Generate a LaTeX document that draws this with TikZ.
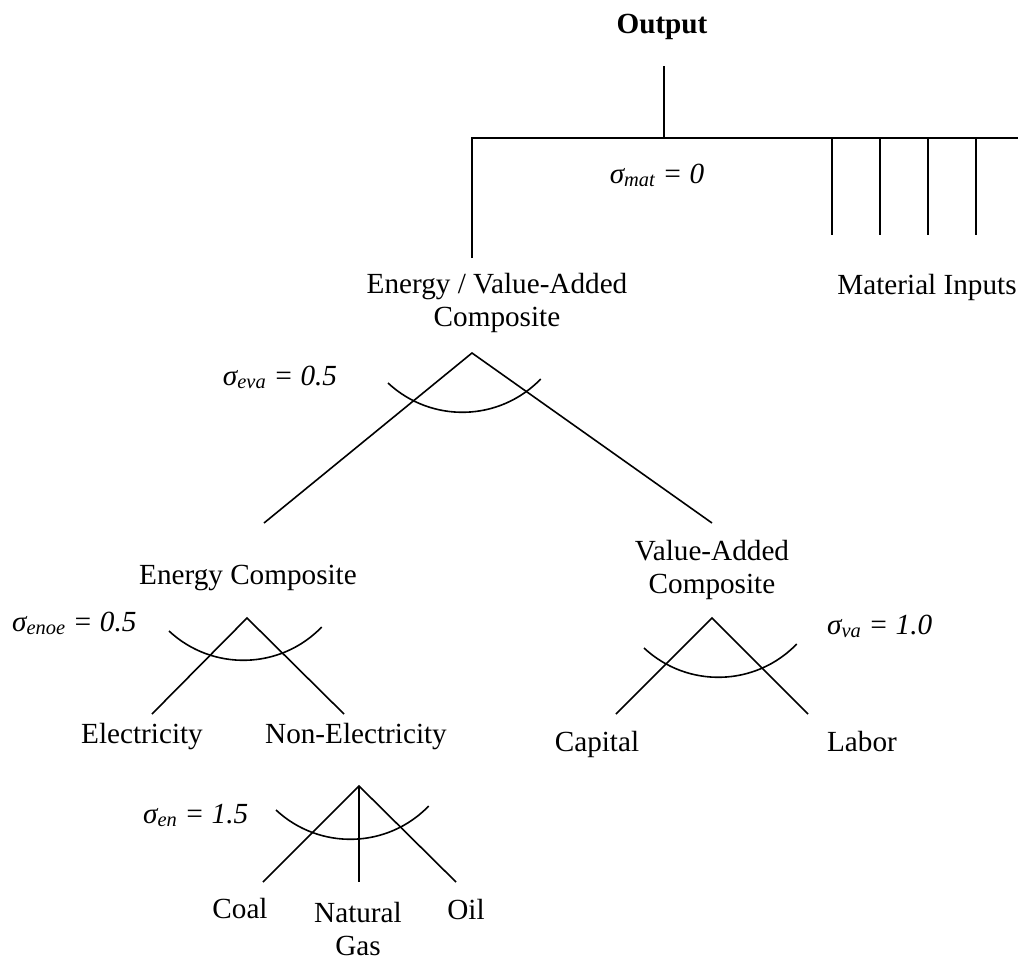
\documentclass[tikz,border=0pt]{standalone}
\usepackage{fontspec}
\setmainfont{Liberation Serif}
\usepackage{tikz}
\usetikzlibrary{positioning, calc}

\newcommand{\diagfont}{\fontsize{29.2}{33}\selectfont}

\tikzset{
  lbl/.style={inner sep=0pt, anchor=base, align=center, font=\diagfont},
  sig/.style={inner sep=0pt, font=\diagfont\itshape},
  branch/.style={line width=1.6pt, line cap=butt},
  cesarc/.style={start angle=227, end angle=316, radius=109pt}
}

\begin{document}
\begin{tikzpicture}[x=1pt, y=-1pt]
    \useasboundingbox (0,0) rectangle (1018,962);

    % Top level
    \node[lbl, font=\diagfont\bfseries] (out) at (662,33) {Output};
    \node[lbl] (evacomp) at (497,326) {Energy / Value-Added\\Composite};
    \node[lbl] (mat) at (927,294) {Material Inputs};
    \node[sig, anchor=base] (smat) at (657,183) {σ\textsubscript{mat} = 0};

    \coordinate (stem) at (664,66);
    \coordinate (bus) at (664,138);
    \coordinate (busL) at (472,138);
    \coordinate (busR) at (1018,138);
    \coordinate (evastem) at (472,258);
    \draw[branch] (stem) -- (bus);
    \draw[branch] (evastem) -- (busL) -- (busR);
    \foreach \i/\x in {1/832,2/880,3/928,4/976}{
      \coordinate (mtop\i) at (\x,138);
      \coordinate (mbot\i) at (\x,235);
      \draw[branch] (mtop\i) -- (mbot\i);
    }

    % Energy / value-added nest
    \node[lbl] (encomp) at (248,584) {Energy Composite};
    \node[lbl] (vacomp) at (712,593) {Value-Added\\Composite};
    \node[sig, anchor=base] (seva) at (280,385) {σ\textsubscript{eva} = 0.5};
    \coordinate (evaapex) at (472,353);
    \coordinate (evaL) at (264,523);
    \coordinate (evaR) at (712,523);
    \draw[branch] (evaL) -- (evaapex) -- (evaR);
    \draw[branch] (388,383) arc[cesarc];

    % Energy nest
    \node[lbl] (elec) at (142,743) {Electricity};
    \node[lbl] (nonelec) at (356,743) {Non-Electricity};
    \node[sig, anchor=base west] (senoe) at (12,631) {σ\textsubscript{enoe} = 0.5};
    \coordinate (enoeapex) at (247,618);
    \coordinate (enoeL) at (152,714);
    \coordinate (enoeR) at (344,714);
    \draw[branch] (enoeL) -- (enoeapex) -- (enoeR);
    \draw[branch] (169,631) arc[cesarc];

    % Value-added nest
    \node[lbl] (cap) at (597,751) {Capital};
    \node[lbl] (lab) at (862,751) {Labor};
    \node[sig, anchor=base west] (sva) at (827,634) {σ\textsubscript{va} = 1.0};
    \coordinate (vaapex) at (712,618);
    \coordinate (vaL) at (616,714);
    \coordinate (vaR) at (808,714);
    \draw[branch] (vaL) -- (vaapex) -- (vaR);
    \draw[branch] (644,648) arc[cesarc];

    % Non-electric fuels
    \node[lbl] (coal) at (240,918) {Coal};
    \node[lbl] (gas) at (358,955) {Natural\\Gas};
    \node[lbl] (oil) at (466,919) {Oil};
    \node[sig, anchor=base west] (sen) at (143,823) {σ\textsubscript{en} = 1.5};
    \coordinate (enapex) at (359,786);
    \coordinate (enL) at (263,882);
    \coordinate (enM) at (359,882);
    \coordinate (enR) at (456,882);
    \draw[branch] (enL) -- (enapex) -- (enR);
    \draw[branch] (enapex) -- (enM);
    \draw[branch] (276,810) arc[cesarc];
\end{tikzpicture}
\end{document}
